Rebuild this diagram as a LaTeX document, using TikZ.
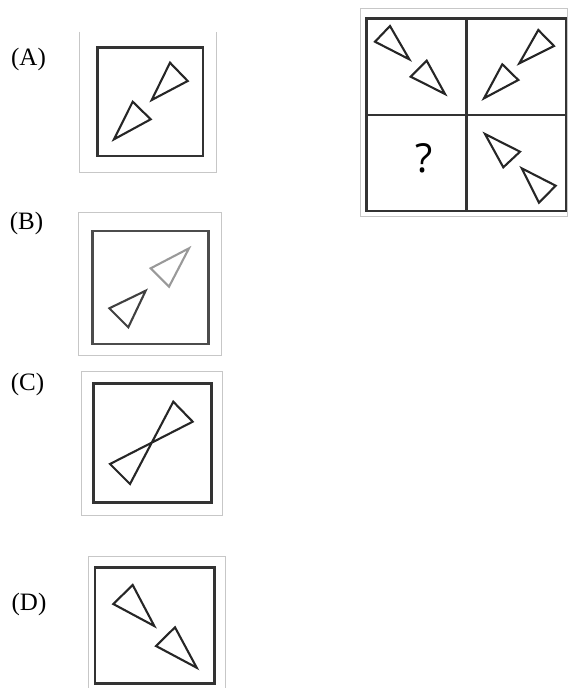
\documentclass[tikz,border=0pt]{standalone}
\usepackage{fontspec}
\setmainfont{Liberation Serif}
\newfontfamily\qfont{Open Sans}
\usepackage{tikz}

\begin{document}
\begin{tikzpicture}[x=1pt,y=-1pt,
    frame/.style={draw=black!22,line width=0.8},
    sq/.style={draw=black!80,line width=2.6},
    tri/.style={draw=black!85,line width=2.1,line join=miter},
    lbl/.style={inner sep=0,font=\fontsize{25}{29}\selectfont}]
        \useasboundingbox (0,0) rectangle (568,688);
        % (A)
        \node[lbl] (la) at (28.5,59) {(A)};
        \draw[frame] (79.3,31.7) -- (79.3,172.3) -- (216.7,172.3) -- (216.7,31.7);
        \draw[sq] (97.5,47.5) rectangle (203,156);
        \draw[tri] (170,62.7) -- (187.7,81) -- (151.7,100) -- cycle;
        \draw[tri] (132.7,101.7) -- (150.7,119.3) -- (114,139.3) -- cycle;
        % (B)
        \node[lbl] (lb) at (26.5,223) {(B)};
        \draw[frame] (78.3,212.7) rectangle (221,355.7);
        \draw[sq,draw=black!70] (92.7,231) rectangle (208.3,344);
        \draw[tri,draw=black!40] (189,248.3) -- (150.7,268.3) -- (169,286.7) -- cycle;
        \draw[tri,draw=black!75] (145.7,290.7) -- (109.3,308.3) -- (128.3,327.3) -- cycle;
        % (C)
        \node[lbl] (lc) at (27.5,384) {(C)};
        \draw[frame] (81.7,371.7) rectangle (222.7,515);
        \draw[sq] (93.3,383.3) rectangle (211.7,502.7);
        \draw[tri] (173.3,401.7) -- (130,484) -- (110,464) -- (192.7,421.7) -- cycle;
        % (D)
        \node[lbl] (ld) at (29,604) {(D)};
        \draw[frame] (88.3,688) -- (88.3,556) -- (225,556) -- (225,688);
        \draw[sq] (95,567.7) rectangle (214.3,683.3);
        \draw[tri] (132.7,585) -- (113.3,604) -- (154.3,626) -- cycle;
        \draw[tri] (175,627.3) -- (156,646) -- (196.7,667.7) -- cycle;
        % grid
        \draw[frame] (360,8.3) rectangle (567.5,216.7);
        \draw[sq] (366.7,18.3) rectangle (566,211);
        \draw[sq] (466.2,18.3) -- (466.2,211) (366.7,115) -- (566,115);
        \draw[tri] (390,26) -- (375,41.7) -- (409.3,59.3) -- cycle;
        \draw[tri] (426.7,60.7) -- (410.7,76.7) -- (445,94) -- cycle;
        \draw[tri] (538.3,30) -- (554,46) -- (519.3,63.3) -- cycle;
        \draw[tri] (502.3,64.3) -- (518.3,80) -- (484,98.3) -- cycle;
        \draw[tri] (485,134) -- (520,151.7) -- (503.3,167.3) -- cycle;
        \draw[tri] (521.7,168.3) -- (555.7,185.7) -- (539,202.7) -- cycle;
        \node[inner sep=0,font=\qfont\fontsize{40}{44}\selectfont] (q) at (424,158) {?};
      \end{tikzpicture}
\end{document}
